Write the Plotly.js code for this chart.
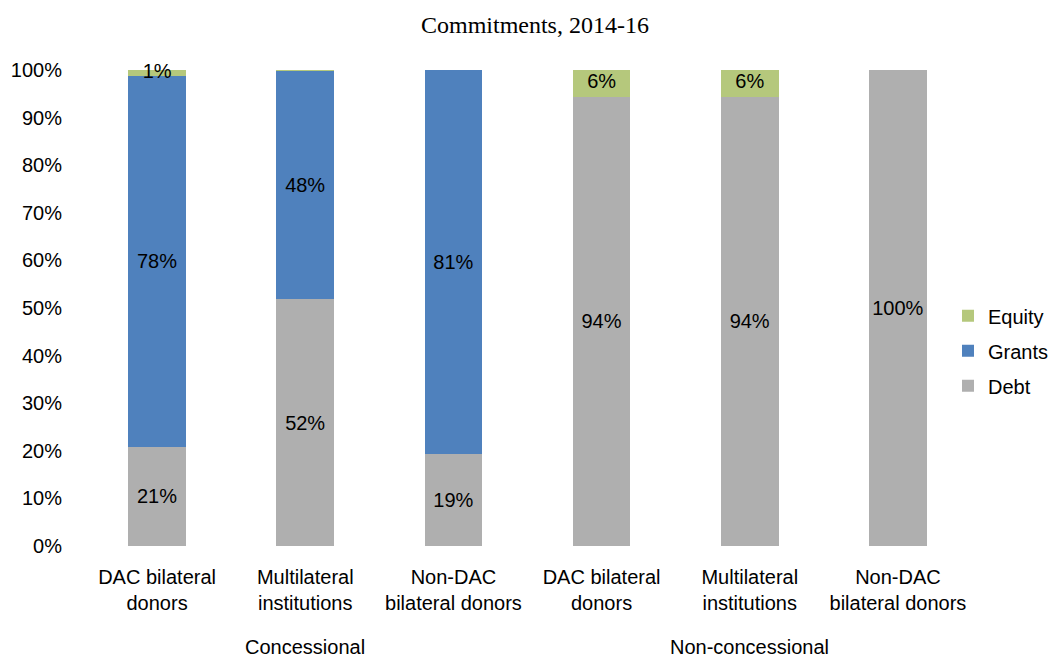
<!DOCTYPE html>
<html>
<head>
<meta charset="utf-8">
<script src="https://cdn.plot.ly/plotly-3.0.1.min.js"></script>
<style>html,body{margin:0;padding:0;background:#fff;}#chart{width:1051px;height:660px;}</style>
</head>
<body>
<div id="chart"></div>
<script>
const categories = ["DAC bilateral<br>donors", "Multilateral<br>institutions", "Non-DAC<br>bilateral donors",
                    "DAC bilateral<br>donors", "Multilateral<br>institutions", "Non-DAC<br>bilateral donors"];
const groups = ["Concessional", "Non-concessional"];
const groupCenters = [1, 4];
const debt = [20.9, 51.8, 19.4, 94.4, 94.4, 100];
const grants = [77.9, 47.9, 80.6, 0, 0, 0];
const equity = [1.2, 0.3, 0, 5.6, 5.6, 0];
const yTickVals = [0, 10, 20, 30, 40, 50, 60, 70, 80, 90, 100];
const yTickText = ["0%", "10%", "20%", "30%", "40%", "50%", "60%", "70%", "80%", "90%", "100%"];

const xs = categories.map((_, i) => i);
const lab = v => (v >= 0.5 ? Math.round(v) + "%" : "");
const SANS = "Liberation Sans, Arial, sans-serif";

function barTrace(name, vals, color, grp, rank, withText) {
  return {
    type: "bar", name: name, x: xs, y: vals,
    marker: {color: color, line: {width: 0}},
    text: withText ? vals.map(lab) : undefined,
    textposition: withText ? "inside" : "none", insidetextanchor: "middle",
    constraintext: "none", textangle: 0,
    insidetextfont: {family: SANS, size: 20, color: "#000"},
    legendgroup: grp, legendrank: rank, hoverinfo: "skip", cliponaxis: false
  };
}

// Equity labels are centred on the (sometimes very thin) equity segment
const equityMid = xs.map(i => debt[i] + grants[i] + equity[i] / 2);

const data = [
  barTrace("Debt", debt, "#AFAFAF", "g1", 3, true),
  barTrace("Grants", grants, "#4F81BD", "g2", 2, true),
  barTrace("Equity", equity, "#B5C87C", "g3", 1, false),
  {type: "scatter", mode: "text", x: xs, y: equityMid, text: equity.map(lab), textposition: "middle center",
   textfont: {family: SANS, size: 20, color: "#000"}, showlegend: false, hoverinfo: "skip", cliponaxis: false}
];

const layout = {
  width: 1051, height: 660,
  margin: {l: 83, r: 79, t: 70, b: 114, autoexpand: false},
  paper_bgcolor: "#fff", plot_bgcolor: "#fff",
  barmode: "stack", bargap: 0.61,
  font: {family: SANS, size: 20, color: "#000"},
  title: {text: "Commitments, 2014-16", font: {family: "Liberation Serif, Times New Roman, serif", size: 24, color: "#000"},
          xref: "container", x: 0.509, xanchor: "center", yref: "container", y: 0.962, yanchor: "middle"},
  xaxis: {tickvals: xs, ticktext: categories, range: [-0.5, 5.5], showgrid: false, zeroline: false,
          showline: false, ticks: "", ticklabelstandoff: 17, tickfont: {family: SANS, size: 20, color: "#000"}},
  yaxis: {range: [0, 100], tickvals: yTickVals, ticktext: yTickText, showgrid: false, zeroline: false,
          showline: false, ticks: "", ticklabelstandoff: 20, tickfont: {family: SANS, size: 20, color: "#000"}},
  legend: {xref: "paper", x: 0.973, xanchor: "left", yref: "paper", y: 0.41, yanchor: "middle", traceorder: "grouped",
           tracegroupgap: 6, font: {family: SANS, size: 20, color: "#000"}, bgcolor: "rgba(0,0,0,0)"},
  annotations: groups.map((g, i) => ({
    text: g, x: groupCenters[i], xref: "x", y: -0.213, yref: "paper", xanchor: "center", yanchor: "middle",
    showarrow: false, font: {family: SANS, size: 20, color: "#000"}
  })),
  showlegend: true
};

Plotly.newPlot("chart", data, layout, {displayModeBar: false, staticPlot: true});
</script>
</body>
</html>
